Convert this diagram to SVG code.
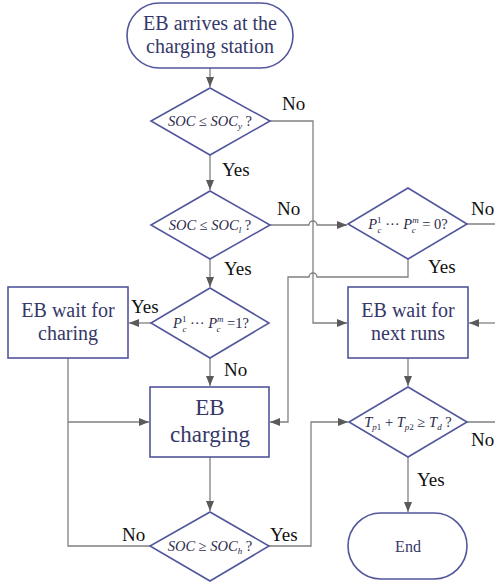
<svg xmlns="http://www.w3.org/2000/svg" width="495" height="585" viewBox="0 0 495 585" font-family="'Liberation Serif', 'Times New Roman', 'DejaVu Serif', serif">
<defs>
<style>
.node{fill:#fff;stroke:#52569c;stroke-width:1.6}
.nt{fill:#363869;text-anchor:middle}
.dt{fill:#2a2a4a;font-size:14.5px;font-style:italic;text-anchor:middle}
.up{font-style:normal}
.sb{font-size:9px}
.lb{fill:#111;font-size:19px}
.ln{fill:none;stroke:#808080;stroke-width:1.3}
</style>
<marker id="ah" viewBox="0 0 10 8" refX="10" refY="4" markerWidth="10" markerHeight="8" markerUnits="userSpaceOnUse" orient="auto">
<path d="M0,0 L10,4 L0,8 z" fill="#5a5a5a"/>
</marker>
</defs>
<rect width="495" height="585" fill="#fff"/>
<g id="connectors">
<path class="ln" d="M210,68 V87" marker-end="url(#ah)"/>
<path class="ln" d="M210,155 V190" marker-end="url(#ah)"/>
<path class="ln" d="M270,121 H313 V323 H347" marker-end="url(#ah)"/>
<path class="ln" d="M270,225 H309 a4,4 0 0 1 8,0 H347" marker-end="url(#ah)"/>
<path class="ln" d="M467,224 H500"/>
<path class="ln" d="M408,259 V277 H317 a4,4 0 0 0 -8,0 H288 V422 H270" marker-end="url(#ah)"/>
<path class="ln" d="M210,259 V287" marker-end="url(#ah)"/>
<path class="ln" d="M151,323 H129" marker-end="url(#ah)"/>
<path class="ln" d="M210,358 V386" marker-end="url(#ah)"/>
<path class="ln" d="M68,358 V546 H150"/>
<path class="ln" d="M68,422 H149" marker-end="url(#ah)"/>
<path class="ln" d="M210,457 V511" marker-end="url(#ah)"/>
<path class="ln" d="M269,546 H311 V422 H348" marker-end="url(#ah)"/>
<path class="ln" d="M500,323 H469" marker-end="url(#ah)"/>
<path class="ln" d="M408,358 V386" marker-end="url(#ah)"/>
<path class="ln" d="M467,422 H500"/>
<path class="ln" d="M408,457 V512" marker-end="url(#ah)"/>
</g>
<g id="start">
<rect class="node" x="127" y="3" width="166" height="65" rx="32.5"/>
<text class="nt" x="210" y="30" font-size="20">EB arrives at the</text>
<text class="nt" x="210" y="53" font-size="20">charging station</text>
</g>
<g id="d1">
<path class="node" d="M210,88 L270,121 L210,155 L151,121 z"/>
<text class="dt" x="210" y="126">SOC <tspan class="up">≤</tspan> SOC<tspan class="sb" dy="3">y</tspan><tspan class="up" dy="-3"> ?</tspan></text>
</g>
<g id="d2">
<path class="node" d="M210,191 L270,225 L210,259 L151,225 z"/>
<text class="dt" x="210" y="230">SOC <tspan class="up">≤</tspan> SOC<tspan class="sb" dy="3">l</tspan><tspan class="up" dy="-3"> ?</tspan></text>
</g>
<g id="d3">
<path class="node" d="M408,188 L467,224 L408,259 L348,224 z"/>
<text class="dt" x="408" y="229">P<tspan class="sb up" dy="-6">1</tspan><tspan class="sb" dx="-4" dy="10">c</tspan><tspan class="up" dy="-4"> ··· </tspan>P<tspan class="sb" dy="-6">m</tspan><tspan class="sb" dx="-7" dy="10">c</tspan><tspan class="up" dx="3" dy="-4"> = 0?</tspan></text>
</g>
<g id="d4">
<path class="node" d="M210,288 L269,323 L210,358 L151,323 z"/>
<text class="dt" x="211" y="328">P<tspan class="sb up" dy="-6">1</tspan><tspan class="sb" dx="-4" dy="10">c</tspan><tspan class="up" dy="-4"> ··· </tspan>P<tspan class="sb" dy="-6">m</tspan><tspan class="sb" dx="-7" dy="10">c</tspan><tspan class="up" dx="3" dy="-4"> =1?</tspan></text>
</g>
<g id="wait-charging">
<rect class="node" x="8" y="287" width="120" height="71"/>
<text class="nt" x="68" y="317" font-size="20">EB wait for</text>
<text class="nt" x="68" y="340" font-size="20">charing</text>
</g>
<g id="wait-next">
<rect class="node" x="348" y="287" width="120" height="71"/>
<text class="nt" x="408" y="317" font-size="20">EB wait for</text>
<text class="nt" x="408" y="340" font-size="20">next runs</text>
</g>
<g id="charging">
<rect class="node" x="150" y="387" width="119" height="70"/>
<text class="nt" x="210" y="415" font-size="23">EB</text>
<text class="nt" x="210" y="442" font-size="23">charging</text>
</g>
<g id="d5">
<path class="node" d="M210,512 L269,546 L210,581 L150,546 z"/>
<text class="dt" x="210" y="551">SOC <tspan class="up">≥</tspan> SOC<tspan class="sb" dy="3">h</tspan><tspan class="up" dy="-3"> ?</tspan></text>
</g>
<g id="d6">
<path class="node" d="M408,387 L467,422 L408,457 L349,422 z"/>
<text class="dt" x="408" y="427">T<tspan class="sb" dy="3">p</tspan><tspan class="sb up">1</tspan><tspan class="up" dy="-3"> + </tspan>T<tspan class="sb" dy="3">p</tspan><tspan class="sb up">2</tspan><tspan class="up" dy="-3"> ≥ </tspan>T<tspan class="sb" dy="3">d</tspan><tspan class="up" dy="-3"> ?</tspan></text>
</g>
<g id="end">
<rect class="node" x="348" y="513" width="119" height="66" rx="33"/>
<text class="nt" x="408" y="552" font-size="16">End</text>
</g>
<g id="labels">
<text class="lb" x="282" y="110">No</text>
<text class="lb" x="222" y="176">Yes</text>
<text class="lb" x="277" y="215">No</text>
<text class="lb" x="471" y="215">No</text>
<text class="lb" x="428" y="273">Yes</text>
<text class="lb" x="224" y="275">Yes</text>
<text class="lb" x="131" y="313">Yes</text>
<text class="lb" x="224" y="376">No</text>
<text class="lb" x="471" y="446">No</text>
<text class="lb" x="417" y="486">Yes</text>
<text class="lb" x="122" y="541">No</text>
<text class="lb" x="270" y="541">Yes</text>
</g>
</svg>
